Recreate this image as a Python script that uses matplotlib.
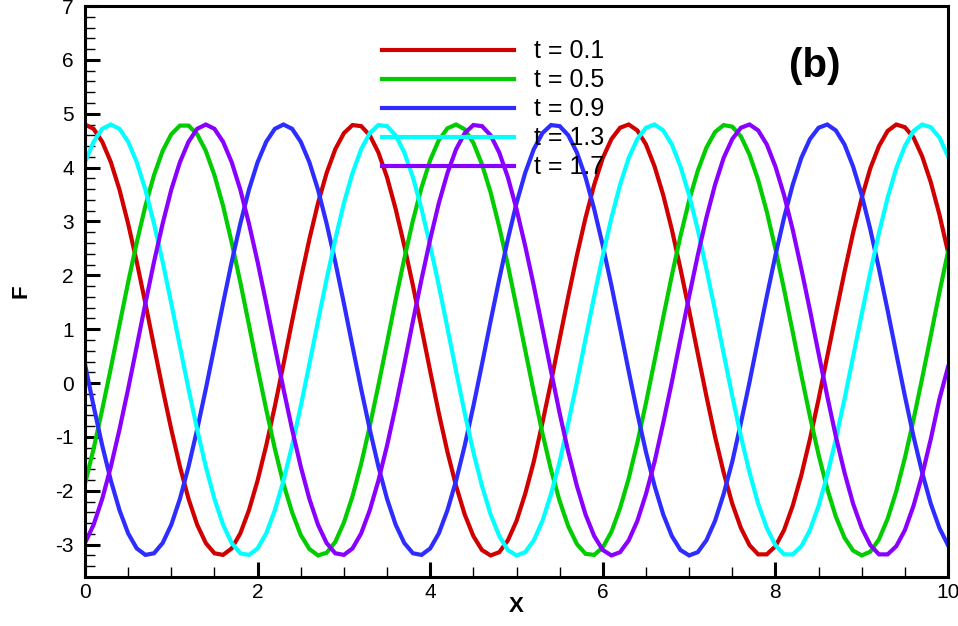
import numpy as np
import matplotlib
matplotlib.use("Agg")
import matplotlib.pyplot as plt
from matplotlib.ticker import MultipleLocator

plt.rcParams["font.family"] = ["Liberation Sans", "DejaVu Sans"]
plt.rcParams["axes.unicode_minus"] = False

# sampling grid (vertices every 0.1 in X)
x = np.round(np.arange(101) * 0.1, 1)

labels = ["t = 0.1", "t = 0.5", "t = 0.9", "t = 1.3", "t = 1.7"]
colors = ["#d00000", "#00cc00", "#2d2dff", "#00ffff", "#8a00ff"]

f_t01 = [4.80, 4.72, 4.48, 4.10, 3.59, 2.96, 2.25, 1.48, 0.68, -0.11,
         -0.86, -1.55, -2.15, -2.63, -2.97, -3.16, -3.19, -3.07, -2.79, -2.36,
         -1.81, -1.16, -0.43, 0.35, 1.15, 1.93, 2.67, 3.34, 3.90, 4.34,
         4.64, 4.79, 4.77, 4.60, 4.28, 3.82, 3.23, 2.55, 1.81, 1.02,
         0.22, -0.56, -1.28, -1.91, -2.44, -2.84, -3.10, -3.20, -3.14, -2.92,
         -2.56, -2.06, -1.46, -0.74, 0.02, 0.82, 1.61, 2.37, 3.07, 3.68,
         4.18, 4.53, 4.74, 4.80, 4.69, 4.43, 4.02, 3.49, 2.85, 2.12,
         1.35, 0.55, -0.24, -0.99, -1.66, -2.24, -2.69, -3.01, -3.18, -3.18,
         -3.03, -2.73, -2.28, -1.71, -1.04, -0.30, 0.49, 1.28, 2.06, 2.79,
         3.44, 3.99, 4.40, 4.68, 4.80, 4.75, 4.56, 4.21, 3.73, 3.13,
         2.43]

f_t05 = [-1.87, -1.22, -0.49, 0.28, 1.08, 1.87, 2.61, 3.29, 3.86, 4.31,
         4.62, 4.78, 4.78, 4.62, 4.31, 3.86, 3.29, 2.61, 1.87, 1.08,
         0.28, -0.49, -1.22, -1.87, -2.40, -2.82, -3.08, -3.20, -3.15, -2.95,
         -2.59, -2.10, -1.50, -0.80, -0.04, 0.75, 1.55, 2.31, 3.02, 3.63,
         4.14, 4.51, 4.73, 4.80, 4.71, 4.46, 4.06, 3.54, 2.90, 2.19,
         1.41, 0.62, -0.17, -0.93, -1.61, -2.19, -2.66, -2.99, -3.17, -3.19,
         -3.05, -2.76, -2.32, -1.77, -1.11, -0.37, 0.42, 1.22, 2.00, 2.73,
         3.39, 3.94, 4.37, 4.66, 4.79, 4.76, 4.58, 4.24, 3.77, 3.18,
         2.49, 1.74, 0.95, 0.15, -0.62, -1.33, -1.96, -2.48, -2.87, -3.11,
         -3.20, -3.13, -2.90, -2.52, -2.01, -1.39, -0.68, 0.09, 0.88, 1.68,
         2.44]

f_t09 = [0.35, -0.43, -1.16, -1.81, -2.36, -2.79, -3.07, -3.19, -3.16, -2.97,
         -2.63, -2.15, -1.55, -0.86, -0.11, 0.68, 1.48, 2.25, 2.96, 3.59,
         4.10, 4.48, 4.72, 4.80, 4.72, 4.48, 4.10, 3.59, 2.96, 2.25,
         1.48, 0.68, -0.11, -0.86, -1.55, -2.15, -2.63, -2.97, -3.16, -3.19,
         -3.07, -2.79, -2.36, -1.81, -1.16, -0.43, 0.35, 1.15, 1.93, 2.67,
         3.34, 3.90, 4.34, 4.64, 4.79, 4.77, 4.60, 4.28, 3.82, 3.23,
         2.55, 1.81, 1.02, 0.22, -0.56, -1.28, -1.91, -2.44, -2.84, -3.10,
         -3.20, -3.14, -2.92, -2.56, -2.06, -1.46, -0.74, 0.02, 0.82, 1.61,
         2.37, 3.07, 3.68, 4.18, 4.53, 4.74, 4.80, 4.69, 4.43, 4.02,
         3.49, 2.85, 2.12, 1.35, 0.55, -0.24, -0.99, -1.66, -2.24, -2.69,
         -3.01]

f_t13 = [4.10, 4.48, 4.72, 4.80, 4.72, 4.48, 4.10, 3.59, 2.96, 2.25,
         1.48, 0.68, -0.11, -0.86, -1.55, -2.15, -2.63, -2.97, -3.16, -3.19,
         -3.07, -2.79, -2.36, -1.81, -1.16, -0.43, 0.35, 1.15, 1.93, 2.67,
         3.34, 3.90, 4.34, 4.64, 4.79, 4.77, 4.60, 4.28, 3.82, 3.23,
         2.55, 1.81, 1.02, 0.22, -0.56, -1.28, -1.91, -2.44, -2.84, -3.10,
         -3.20, -3.14, -2.92, -2.56, -2.06, -1.46, -0.74, 0.02, 0.82, 1.61,
         2.37, 3.07, 3.68, 4.18, 4.53, 4.74, 4.80, 4.69, 4.43, 4.02,
         3.49, 2.85, 2.12, 1.35, 0.55, -0.24, -0.99, -1.66, -2.24, -2.69,
         -3.01, -3.18, -3.18, -3.03, -2.73, -2.28, -1.71, -1.04, -0.30, 0.49,
         1.28, 2.06, 2.79, 3.44, 3.99, 4.40, 4.68, 4.80, 4.75, 4.56,
         4.21]

f_t17 = [-2.97, -2.63, -2.15, -1.55, -0.86, -0.11, 0.68, 1.48, 2.25, 2.96,
         3.59, 4.10, 4.48, 4.72, 4.80, 4.72, 4.48, 4.10, 3.59, 2.96,
         2.25, 1.48, 0.68, -0.11, -0.86, -1.55, -2.15, -2.63, -2.97, -3.16,
         -3.19, -3.07, -2.79, -2.36, -1.81, -1.16, -0.43, 0.35, 1.15, 1.93,
         2.67, 3.34, 3.90, 4.34, 4.64, 4.79, 4.77, 4.60, 4.28, 3.82,
         3.23, 2.55, 1.81, 1.02, 0.22, -0.56, -1.28, -1.91, -2.44, -2.84,
         -3.10, -3.20, -3.14, -2.92, -2.56, -2.06, -1.46, -0.74, 0.02, 0.82,
         1.61, 2.37, 3.07, 3.68, 4.18, 4.53, 4.74, 4.80, 4.69, 4.43,
         4.02, 3.49, 2.85, 2.12, 1.35, 0.55, -0.24, -0.99, -1.66, -2.24,
         -2.69, -3.01, -3.18, -3.18, -3.03, -2.73, -2.28, -1.71, -1.04, -0.30,
         0.30]

series = [f_t01, f_t05, f_t09, f_t13, f_t17]

fig = plt.figure(figsize=(9.58, 6.26), dpi=100)
ax = fig.add_axes([0.0887, 0.0783, 0.9009, 0.9121])

for ys, lab, col in zip(series, labels, colors):
    ax.plot(x, ys, color=col, lw=3.0, label=lab, solid_joinstyle="miter")

ax.set_xlim(0, 10)
ax.set_ylim(-3.6, 7)
ax.xaxis.set_major_locator(MultipleLocator(2))
ax.xaxis.set_minor_locator(MultipleLocator(0.5))
ax.yaxis.set_major_locator(MultipleLocator(1))
ax.yaxis.set_minor_locator(MultipleLocator(0.2))

ax.tick_params(which="both", direction="in", top=False, right=False)
ax.tick_params(which="major", length=11, width=2.2, labelsize=15)
ax.tick_params(which="minor", length=7, width=1.0)
ax.tick_params(axis="x", which="major", pad=4)
ax.tick_params(axis="y", which="major", pad=8)

for sp in ax.spines.values():
    sp.set_linewidth(2.2)

ax.set_xlabel("X", fontsize=16, fontweight="bold", labelpad=-4)
ax.set_ylabel("F", fontsize=16, fontweight="bold", labelpad=17)

ax.text(0.845, 0.895, "(b)", transform=ax.transAxes, fontsize=29,
        fontweight="bold", ha="center", va="center")

ax.legend(loc="upper left", bbox_to_anchor=(0.375, 0.973),
          bbox_transform=fig.transFigure, frameon=False, fontsize=18,
          handlelength=5.3, handletextpad=0.8, labelspacing=0.2,
          borderpad=0.4)

fig.savefig("out.png", dpi=100)
plt.close(fig)
